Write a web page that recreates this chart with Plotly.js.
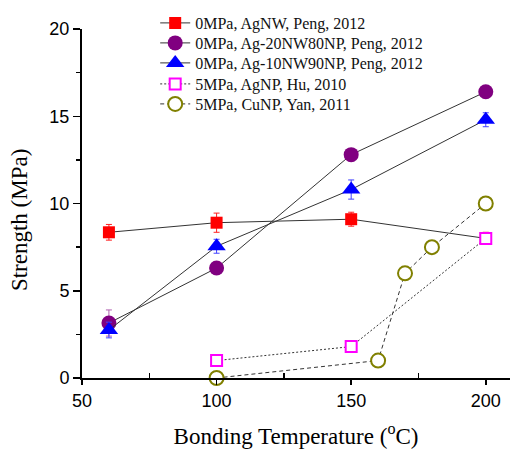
<!DOCTYPE html>
<html>
<head>
<meta charset="utf-8">
<script src="https://cdn.plot.ly/plotly-3.0.1.min.js"></script>
<style>html,body{margin:0;padding:0;background:#fff}</style>
</head>
<body>
<div id="chart" style="width:510px;height:449px"></div>
<script>
// Data
const seriesNames = [
  "0MPa, AgNW, Peng, 2012",
  "0MPa, Ag-20NW80NP, Peng, 2012",
  "0MPa, Ag-10NW90NP, Peng, 2012",
  "5MPa, AgNP, Hu, 2010",
  "5MPa, CuNP, Yan, 2011"
];
const agnwT = [60, 100, 150, 200];
const agnwS = [8.35, 8.9, 9.1, 8.0];
const agnwErr = [0.45, 0.55, 0.4, 0.35];

const ag20T = [60, 100, 150, 200];
const ag20S = [3.15, 6.3, 12.8, 16.4];
const ag20Err = [0.75, 0.2, 0.2, 0.3];

const ag10T = [60, 100, 150, 200];
const ag10S = [2.75, 7.55, 10.8, 14.8];
const ag10Err = [0.45, 0.4, 0.55, 0.4];

const agnpT = [100, 150, 200];
const agnpS = [1.0, 1.8, 8.0];

const cunpT = [100, 160, 170, 180, 200];
const cunpS = [0, 1.0, 6.0, 7.5, 10.0];

const xTicks = [50, 100, 150, 200];
const yTicks = [0, 5, 10, 15, 20];

const lineCol = '#333333';
const serif = 'Liberation Serif, Times New Roman, serif';
const sans = 'Liberation Sans, Arial, sans-serif';

const traces = [
  {
    x: agnwT, y: agnwS, name: seriesNames[0], mode: 'lines+markers', legend: 'legend',
    line: {color: lineCol, width: 1},
    marker: {symbol: 'square', size: 12, color: '#ff0000'},
    error_y: {type: 'data', array: agnwErr, visible: true, color: '#ff2020', thickness: 1, width: 3}
  },
  {
    x: ag20T, y: ag20S, name: seriesNames[1], mode: 'lines+markers', legend: 'legend2',
    line: {color: lineCol, width: 1},
    marker: {symbol: 'circle', size: 15, color: '#800080'},
    error_y: {type: 'data', array: ag20Err, visible: true, color: '#b060b0', thickness: 1, width: 3}
  },
  {
    x: ag10T, y: ag10S, name: seriesNames[2], mode: 'lines+markers', legend: 'legend3',
    line: {color: lineCol, width: 1},
    marker: {symbol: 'triangle-up', size: 16, color: '#0000ff'},
    error_y: {type: 'data', array: ag10Err, visible: true, color: '#4040ff', thickness: 1, width: 3}
  },
  {
    x: agnpT, y: agnpS, name: seriesNames[3], mode: 'lines+markers', legend: 'legend4',
    line: {color: lineCol, width: 1, dash: '2px,2px'},
    marker: {symbol: 'square', size: 11, color: '#ffffff', line: {color: '#ff00ff', width: 2}}
  },
  {
    x: cunpT, y: cunpS, name: seriesNames[4], mode: 'lines+markers', legend: 'legend5',
    line: {color: lineCol, width: 1, dash: '4px,3px'},
    marker: {symbol: 'circle', size: 14, color: '#ffffff', line: {color: '#808000', width: 2}},
    cliponaxis: false
  }
];

function mkLegend(y) {
  return {
    x: 0.171, y: y, xanchor: 'left', yanchor: 'middle',
    bgcolor: 'rgba(0,0,0,0)',
    font: {family: serif, size: 16, color: '#111'},
    itemwidth: 30
  };
}

const layout = {
  width: 510, height: 449,
  margin: {l: 82, r: 0, t: 29, b: 71},
  paper_bgcolor: '#ffffff', plot_bgcolor: '#ffffff',
  showlegend: true,
  legend: mkLegend(1.0172),
  legend2: mkLegend(0.9599),
  legend3: mkLegend(0.9026),
  legend4: mkLegend(0.8424),
  legend5: mkLegend(0.7851),
  xaxis: {
    range: [50, 209], tickvals: xTicks, ticktext: xTicks.map(String),
    showgrid: false, zeroline: false, showline: true, linecolor: '#000', linewidth: 2,
    ticks: 'outside', ticklen: 5, tickwidth: 1.5, tickcolor: '#000',
    minor: {tickvals: [75, 125, 175], ticks: 'inside', ticklen: 5, tickwidth: 1.5, tickcolor: '#000'},
    tickfont: {family: sans, size: 18, color: '#000'},
    title: {text: 'Bonding Temperature (<sup>o</sup>C)', standoff: 21,
      font: {family: serif, size: 23, color: '#000'}}
  },
  yaxis: {
    range: [0, 20], tickvals: yTicks, ticktext: yTicks.map(String),
    showgrid: false, zeroline: false, showline: true, linecolor: '#000', linewidth: 2,
    ticks: 'outside', ticklen: 7, tickwidth: 1.5, tickcolor: '#000',
    minor: {tickvals: [2.5, 7.5, 12.5, 17.5], ticks: 'outside', ticklen: 4, tickwidth: 1.5, tickcolor: '#000'},
    tickfont: {family: sans, size: 18, color: '#000'}
  },
  annotations: [{
    text: 'Strength (MPa)', textangle: -90, showarrow: false,
    xref: 'paper', yref: 'paper', x: -0.147, y: 0.4527,
    xanchor: 'center', yanchor: 'middle',
    font: {family: serif, size: 23, color: '#000'}
  }]
};

Plotly.newPlot('chart', traces, layout, {displayModeBar: false, staticPlot: true});
</script>
</body>
</html>
